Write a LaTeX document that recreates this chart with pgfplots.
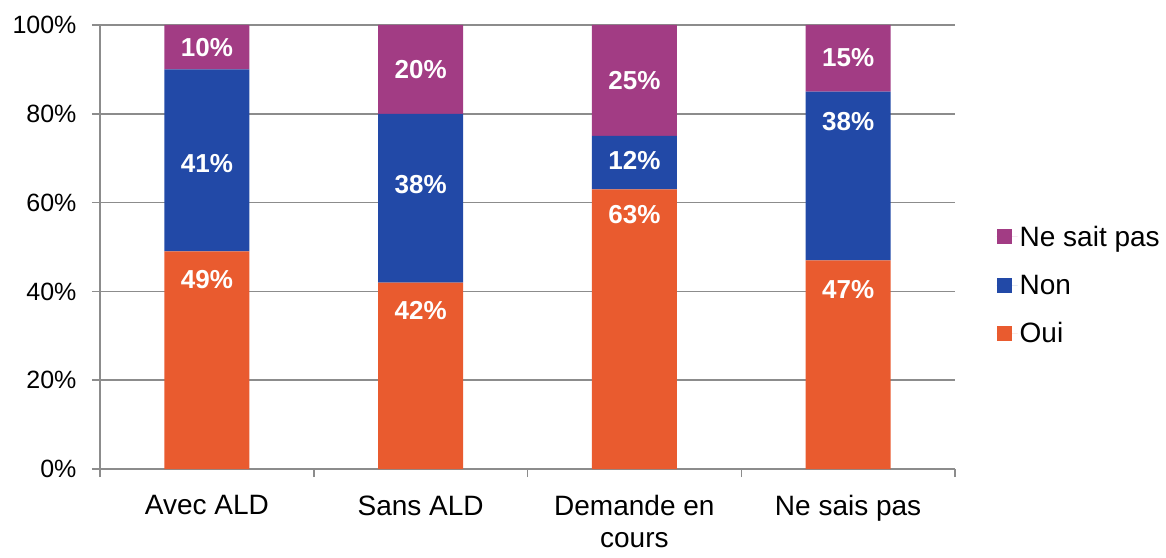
\documentclass[border=0pt]{standalone}
\usepackage{pgfplots}
\pgfplotsset{compat=1.18}
\usepackage{fontspec}
\setmainfont{Liberation Sans}
\definecolor{oui}{HTML}{E95B2F}
\definecolor{non}{HTML}{2249A7}
\definecolor{nsp}{HTML}{A23C84}
\definecolor{gridc}{HTML}{8C8C8C}
\begin{document}
\begin{tikzpicture}
\useasboundingbox (-100pt,-88pt) rectangle (1066pt,469pt);
\begin{axis}[
  at={(0,0)}, anchor=south west,
  scale only axis, width=855pt, height=444pt,
  ybar stacked, bar width=85pt,
  xmin=-0.5, xmax=3.5, ymin=0, ymax=100,
  xtick={0,1,2,3},
  xticklabels={Avec ALD, Sans ALD, {Demande en\\cours}, Ne sais pas},
  xticklabel style={align=center, font=\fontsize{28}{32}\selectfont, yshift=-15pt},
  major x tick style={draw=none},
  minor xtick={-0.5,0.5,1.5,2.5,3.5},
  ytick={0,20,...,100},
  yticklabel={\pgfmathprintnumber{\tick}\%},
  yticklabel style={font=\fontsize{25}{28}\selectfont, xshift=-12pt},
  /pgf/number format/assume math mode=true,
  ymajorgrids, grid style={gridc, line width=1.5pt},
  axis x line*=bottom, axis y line*=left,
  axis line style={gridc, line width=1.5pt},
  tick style={gridc, line width=1.5pt},
  tick align=outside, major tick length=8pt, minor tick length=8pt,
  reverse legend,
  legend style={draw=none, at={(1.045,0.414)}, anchor=west,
    font=\fontsize{28}{33}\selectfont, row sep=23pt},
  legend cell align=left,
  legend image code/.code={\fill[#1, draw=none] (0pt,-7.5pt) rectangle (15pt,7.5pt);
    \path (0pt,0pt) -- (21pt,0pt);},
]
\addplot[fill=oui, draw=none] coordinates {(0,49) (1,42) (2,63) (3,47)};
\addplot[fill=non, draw=none] coordinates {(0,41) (1,38) (2,12) (3,38)};
\addplot[fill=nsp, draw=none] coordinates {(0,10) (1,20) (2,25) (3,15)};
\legend{Oui, Non, Ne sait pas}
\end{axis}
\begin{axis}[
  at={(0,0)}, anchor=south west,
  scale only axis, width=855pt, height=444pt,
  xmin=-0.5, xmax=3.5, ymin=0, ymax=100, hide axis,
  /pgf/number format/assume math mode=true,
  nodes near coords={\pgfmathprintnumber{\pgfplotspointmeta}\%},
  every node near coord/.append style={anchor=center, text=white,
    font=\bfseries\fontsize{26}{30}\selectfont},
]
\addplot[draw=none, mark=none, point meta=explicit]
  table[x=x, y=y, meta=v] {
x y v
0 95.0 10
0 68.9 41
0 42.6 49
1 89.9 20
1 64.0 38
1 35.8 42
2 87.6 25
2 69.4 12
2 57.2 63
3 92.6 15
3 78.2 38
3 40.5 47
};
\end{axis}
\end{tikzpicture}
\end{document}
